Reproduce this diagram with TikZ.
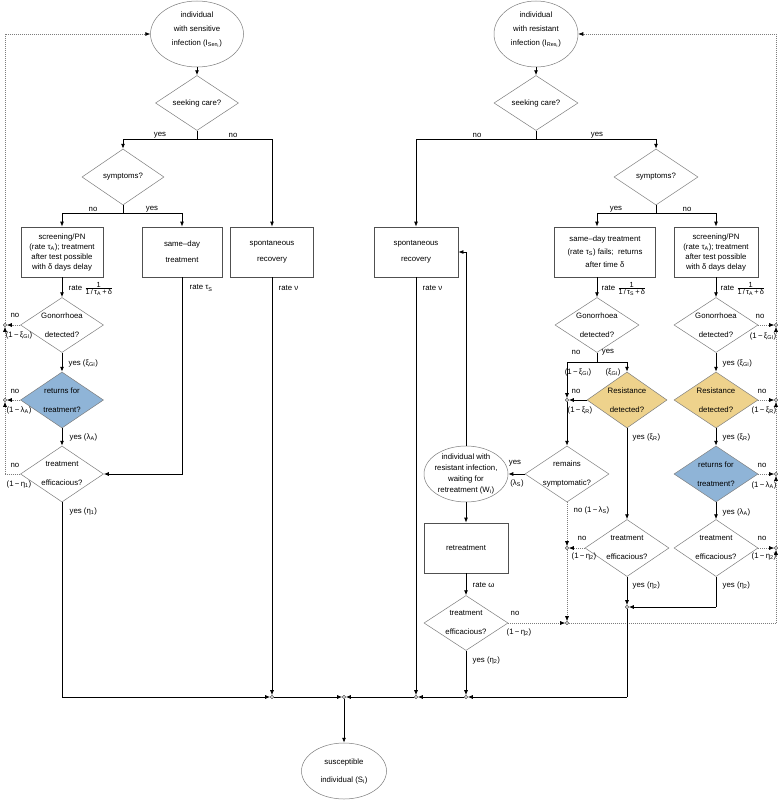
\documentclass[tikz,border=0pt]{standalone}
\usepackage{fontspec}
\setmainfont{Liberation Sans}
\usetikzlibrary{shapes.geometric,arrows.meta}
\definecolor{blu}{RGB}{143,180,215}
\definecolor{ylw}{RGB}{238,210,140}
\definecolor{dgray}{RGB}{80,80,80}
\definecolor{lgray}{RGB}{125,125,125}
\newcommand\fr[2]{\ensuremath{\frac{\mbox{\fontsize{7.4}{8}\selectfont #1}}{\mbox{\fontsize{7.4}{8}\selectfont #2}}}}
\newcommand\sub[1]{\textsubscript{#1}}
\begin{document}
\begin{tikzpicture}[x=1pt,y=-1pt,
  every node/.style={font=\fontsize{7.8}{10}\selectfont},
  bx/.style={draw=dgray, line width=0.8pt, minimum width=84pt, minimum height=50pt, inner sep=0pt, align=center},
  dia/.style={shape=diamond, draw=lgray, line width=0.5pt, minimum width=84pt, minimum height=56pt, inner sep=0pt},
  ell/.style={shape=ellipse, draw=lgray, line width=0.5pt, inner sep=0pt},
  txt/.style={align=center, inner sep=0pt},
  jn/.style={circle, draw, fill=white, inner sep=0pt, minimum size=3.2pt, line width=0.4pt},
  ln/.style={line width=0.8pt},
  arr/.style={ln, -{Latex[length=5pt,width=4pt]}},
  dt/.style={draw=lgray, line width=0.6pt, dash pattern=on 1pt off 1pt},
  darr/.style={dt, arrows={-{Latex[length=5pt,width=4pt,black]}}},
  lab/.style={inner sep=0.5pt}]
\fill[white] (0,0) rectangle (779,800);
\useasboundingbox (0,0) rectangle (779,800);

% ---------------- left (sensitive) ----------------
\node[ell, minimum width=93pt, minimum height=66pt, label={[txt,yshift=4pt]center:{individual\\[4pt]with sensitive\\[4pt]infection (I\sub{Sen\sub{i}})}}] (isen) at (197,34) {};
\node[dia, minimum width=83pt, minimum height=55pt, label={[txt]center:{seeking care?}}] (sc1) at (197,103) {};
\coordinate (b1) at (197,139);
\node[dia, minimum width=82pt, label={[txt]center:{symptoms?}}] (sym1) at (123,177) {};
\coordinate (b2) at (123,213);
\node[bx, minimum width=82pt] (scr1) at (62,252) {screening/PN\\(rate τ\sub{A}); treatment\\after test possible\\with δ days delay};
\node[bx, minimum width=80pt] (sd1) at (182,252) {same–day\\[6pt]treatment};
\node[bx, minimum width=83pt] (sr1) at (272,252) {spontaneous\\[6pt]recovery};
\node[dia, minimum width=83pt, minimum height=55pt, label={[txt]center:{Gonorrhoea\\[9pt]detected?}}] (gd1) at (62,325) {};
\node[dia, minimum width=83pt, fill=blu, label={[txt]center:{returns for\\[9pt]treatment?}}] (rt1) at (62,400) {};
\node[dia, minimum width=83pt, label={[txt]center:{treatment\\[9pt]efficacious?}}] (te1) at (62,474) {};
\node[ell, minimum width=85pt, minimum height=56pt, label={[txt]center:{susceptible\\[8pt]individual (S\sub{i})}}] (sus) at (344,771) {};

\node[jn] (jl1) at (5,325) {};
\node[jn] (jl2) at (5,400) {};
\coordinate (cl3) at (5,474);
\coordinate (cb5) at (62,697);
\node[jn] (jb1) at (272,697) {};
\node[jn] (jb0) at (344,697) {};
\node[jn] (jb2) at (416,697) {};
\node[jn] (jb3) at (466,697) {};
\coordinate (cb4) at (627,697);

\draw[arr] (isen.south) -- (sc1.north);
\draw[ln] (sc1.south) -- (b1);
\draw[arr] (b1) -| (sym1.north);
\draw[arr] (b1) -| (sr1.north);
\draw[ln] (sym1.south) -- (b2);
\draw[arr] (b2) -| (scr1.north);
\draw[arr] (b2) -| (sd1.north);
\draw[arr] (scr1.south) -- (gd1.north);
\draw[arr] (gd1.south) -- (rt1.north);
\draw[arr] (rt1.south) -- (te1.north);
\draw[arr] (sd1.south) |- (te1.east);
\draw[ln] (te1.south) -- (cb5);
\draw[arr] (cb5) -- (jb1);
\draw[arr] (sr1.south) -- (jb1);
\draw[arr] (jb1) -- (jb0);
\draw[arr] (jb0) -- (sus.north);

\draw[darr] (gd1.west) -- (jl1);
\draw[darr] (rt1.west) -- (jl2);
\draw[dt] (te1.west) -- (cl3);
\draw[darr] (cl3) -- (jl2);
\draw[darr] (jl2) -- (jl1);
\draw[darr] (jl1) |- (isen.west);

% left labels
\node[lab] (t1) at (160,135) {yes};
\node[lab] (t2) at (233,135) {no};
\node[lab] (t3) at (93,209) {no};
\node[lab] (t4) at (152,209) {yes};
\node[lab, anchor=west] (t5) at (68,289) {rate \fr{1}{1\,/\,τ\sub{A}\,+\,δ}};
\node[lab, anchor=west] (t6) at (189,288) {rate τ\sub{S}};
\node[lab, anchor=west] (t7) at (278,288) {rate ν};
\node[lab] (t8) at (15,315) {no};
\node[lab] (t9) at (19,335) {(1\,−\,ξ\sub{GI})};
\node[lab, anchor=west] (t10) at (68,363) {yes (ξ\sub{GI})};
\node[lab] (t11) at (15,391) {no};
\node[lab] (t12) at (19,410) {(1\,−\,λ\sub{A})};
\node[lab, anchor=west] (t13) at (69,437) {yes (λ\sub{A})};
\node[lab] (t14) at (15,465) {no};
\node[lab] (t15) at (19,484) {(1\,−\,η\sub{1})};
\node[lab, anchor=west] (t16) at (69,511) {yes (η\sub{1})};

% ---------------- right (resistant) ----------------
\node[ell, minimum width=84pt, minimum height=66pt, label={[txt,yshift=4pt]center:{individual\\[4pt]with resistant\\[4pt]infection (I\sub{Res\sub{i}})}}] (ires) at (536,34) {};
\node[dia, minimum height=55pt, label={[txt]center:{seeking care?}}] (sc2) at (536,103) {};
\coordinate (b3) at (536,139);
\node[dia, label={[txt]center:{symptoms?}}] (sym2) at (656,177) {};
\coordinate (b4) at (656,213);
\node[bx, minimum width=101pt, font=\fontsize{7.8}{13}\selectfont] (sd2) at (605,252) {same–day treatment\\(rate τ\sub{S}) fails;\ \ returns\\after time δ};
\node[bx] (scr2) at (716,252) {screening/PN\\(rate τ\sub{A}); treatment\\after test possible\\with δ days delay};
\node[bx] (sr2) at (416,252) {spontaneous\\[6pt]recovery};
\node[dia, minimum height=55pt, label={[txt]center:{Gonorrhoea\\[9pt]detected?}}] (gd2) at (597,325) {};
\node[dia, minimum height=55pt, label={[txt]center:{Gonorrhoea\\[9pt]detected?}}] (gd3) at (716,325) {};
\coordinate (b5) at (597,362);
\coordinate (b5l) at (567,362);
\coordinate (b5r) at (627,362);
\node[dia, minimum width=80pt, fill=ylw, label={[txt]center:{Resistance\\[9pt]detected?}}] (rd2) at (627,400) {};
\node[dia, fill=ylw, label={[txt]center:{Resistance\\[9pt]detected?}}] (rd3) at (716,400) {};
\node[jn] (jm1) at (567,400) {};
\node[dia, label={[txt]center:{remains\\[9pt]symptomatic?}}] (rs) at (567,474) {};
\node[ell, minimum width=84pt, minimum height=56pt, label={[txt]center:{individual with\\[1pt]resistant infection,\\[1pt]waiting for\\[1pt]retreatment (W\sub{i})}}] (wi) at (466,474) {};
\node[bx] (ret) at (466,548) {retreatment};
\node[dia, minimum height=55pt, label={[txt]center:{treatment\\[9pt]efficacious?}}] (te3) at (466,623) {};
\node[dia, fill=blu, label={[txt]center:{returns for\\[9pt]treatment?}}] (rt2) at (716,474) {};
\node[dia, minimum height=57pt, label={[txt]center:{treatment\\[9pt]efficacious?}}] (te2) at (627,548) {};
\node[dia, minimum height=57pt, label={[txt]center:{treatment\\[9pt]efficacious?}}] (te4) at (716,548) {};
\node[jn] (jm2) at (567,548) {};
\node[jn] (jm3) at (567,623) {};
\node[jn] (jr1) at (776,325) {};
\node[jn] (jr2) at (776,400) {};
\node[jn] (jr3) at (776,474) {};
\node[jn] (jr4) at (776,548) {};
\coordinate (cr5) at (776,623);
\node[jn] (jy) at (627,607) {};
\coordinate (cy) at (716,607);
\coordinate (cw) at (466,252);

\draw[arr] (ires.south) -- (sc2.north);
\draw[ln] (sc2.south) -- (b3);
\draw[arr] (b3) -| (sr2.north);
\draw[arr] (b3) -| (sym2.north);
\draw[ln] (sym2.south) -- (b4);
\draw[arr] (b4) -| ([xshift=-8pt]sd2.north);
\draw[arr] (b4) -| (scr2.north);
\draw[arr] ([xshift=-8pt]sd2.south) -- (gd2.north);
\draw[arr] (scr2.south) -- (gd3.north);
\draw[ln] (gd2.south) -- (b5);
\draw[ln] (b5l) -- (b5r);
\draw[arr] (b5l) -- (jm1);
\draw[arr] (b5r) -- (rd2.north);
\draw[arr] (rd2.west) -- (jm1);
\draw[arr] (jm1) -- (rs.north);
\draw[arr] (rs.west) -- (wi.east);
\draw[darr] (rs.south) -- (jm2);
\draw[darr] (te2.west) -- (jm2);
\draw[darr] (jm2) -- (jm3);
\draw[darr] (te3.east) -- (jm3);
\draw[dt] (jm3) -- (cr5);
\draw[darr] (cr5) -- (jr4);
\draw[darr] (jr4) -- (jr3);
\draw[darr] (jr3) -- (jr2);
\draw[darr] (jr2) -- (jr1);
\draw[darr] (jr1) |- (ires.east);
\draw[darr] (gd3.east) -- (jr1);
\draw[darr] (rd3.east) -- (jr2);
\draw[darr] (rt2.east) -- (jr3);
\draw[darr] (te4.east) -- (jr4);
\draw[arr] (gd3.south) -- (rd3.north);
\draw[arr] (rd3.south) -- (rt2.north);
\draw[arr] (rt2.south) -- (te4.north);
\draw[arr] (rd2.south) -- (te2.north);
\draw[arr] (te2.south) -- (jy);
\draw[ln] (te4.south) -- (cy);
\draw[arr] (cy) -- (jy);
\draw[ln] (jy) -- (cb4);
\draw[arr] (cb4) -- (jb3);
\draw[arr] (jb3) -- (jb2);
\draw[arr] (jb2) -- (jb0);
\draw[arr] (te3.south) -- (jb3);
\draw[arr] (sr2.south) -- (jb2);
\draw[ln] (wi.north) -- (cw);
\draw[arr] (cw) -- (sr2.east);
\draw[arr] (wi.south) -- (ret.north);
\draw[arr] (ret.south) -- (te3.north);

% right labels
\node[lab] (u1) at (477,135) {no};
\node[lab] (u2) at (597,135) {yes};
\node[lab] (u3) at (616,209) {yes};
\node[lab] (u4) at (687,209) {no};
\node[lab, anchor=west] (u5) at (601,289) {rate \fr{1}{1\,/\,τ\sub{S}\,+\,δ}};
\node[lab, anchor=west] (u6) at (720,289) {rate \fr{1}{1\,/\,τ\sub{A}\,+\,δ}};
\node[lab, anchor=west] (u7) at (422,288) {rate ν};
\node[lab] (u8) at (576,352) {no};
\node[lab] (u9) at (608,352) {yes};
\node[lab] (u10) at (578,372) {(1\,−\,ξ\sub{GI})};
\node[lab] (u11) at (613,372) {(ξ\sub{GI})};
\node[lab] (u12) at (760,316) {no};
\node[lab] (u13) at (763,336) {(1\,−\,ξ\sub{GI})};
\node[lab, anchor=west] (u14) at (722,363) {yes (ξ\sub{GI})};
\node[lab] (u15) at (576,391) {no};
\node[lab] (u16) at (580,410) {(1\,−\,ξ\sub{R})};
\node[lab, anchor=west] (u17) at (632,437) {yes (ξ\sub{R})};
\node[lab] (u18) at (762,391) {no};
\node[lab] (u19) at (764,410) {(1\,−\,ξ\sub{R})};
\node[lab, anchor=west] (u20) at (722,437) {yes (ξ\sub{R})};
\node[lab] (u21) at (515,463) {yes};
\node[lab] (u22) at (517,483) {(λ\sub{S})};
\node[lab, anchor=west] (u23) at (573,510) {no (1\,−\,λ\sub{S})};
\node[lab] (u24) at (762,465) {no};
\node[lab] (u25) at (764,485) {(1\,−\,λ\sub{A})};
\node[lab, anchor=west] (u26) at (722,512) {yes (λ\sub{A})};
\node[lab] (u27) at (582,538) {no};
\node[lab] (u28) at (584,556) {(1\,−\,η\sub{2})};
\node[lab, anchor=west] (u29) at (632,585) {yes (η\sub{2})};
\node[lab] (u30) at (762,538) {no};
\node[lab] (u31) at (764,556) {(1\,−\,η\sub{2})};
\node[lab, anchor=west] (u32) at (722,585) {yes (η\sub{2})};
\node[lab, anchor=west] (u33) at (472,585) {rate ω};
\node[lab] (u34) at (515,613) {no};
\node[lab] (u35) at (519,632) {(1\,−\,η\sub{2})};
\node[lab, anchor=west] (u36) at (472,660) {yes (η\sub{2})};
\end{tikzpicture}
\end{document}
